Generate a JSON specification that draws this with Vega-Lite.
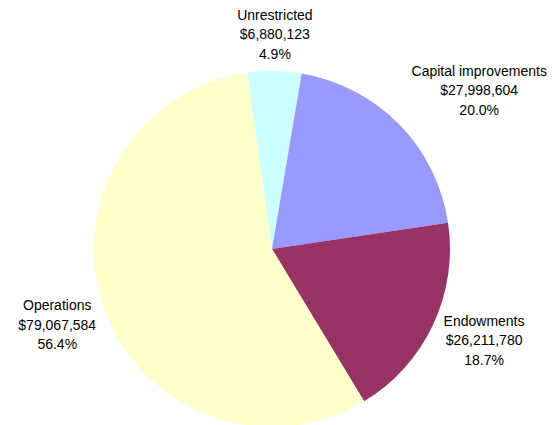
{
  "$schema": "https://vega.github.io/schema/vega-lite/v6.json",
  "width": 544,
  "height": 352,
  "padding": {"left": 0, "top": 73, "right": 14, "bottom": 0},
  "autosize": {"type": "none"},
  "background": "white",
  "view": {"stroke": null},
  "data": {
    "values": [
      {"category": "Unrestricted", "value": 6880123},
      {"category": "Capital improvements", "value": 27998604},
      {"category": "Endowments", "value": 26211780},
      {"category": "Operations", "value": 79067584}
    ]
  },
  "transform": [
    {"joinaggregate": [{"op": "sum", "field": "value", "as": "total"}]},
    {"calculate": "[datum.category, format(datum.value, '$,d'), format(datum.value / datum.total, '.1%')]", "as": "label"}
  ],
  "encoding": {
    "theta": {
      "field": "value",
      "type": "quantitative",
      "stack": true,
      "scale": {"range": [0.1676, 6.4508]}
    }
  },
  "layer": [
    {
      "mark": {"type": "arc", "outerRadius": 178},
      "encoding": {
        "color": {
          "field": "category",
          "type": "nominal",
          "scale": {
            "domain": ["Capital improvements", "Endowments", "Operations", "Unrestricted"],
            "range": ["#9999FF", "#993366", "#FFFFCC", "#CCFFFF"]
          },
          "legend": null
        }
      }
    },
    {
      "mark": {
        "type": "text",
        "radius": {"expr": "datum.category == 'Capital improvements' ? 258 : datum.category == 'Unrestricted' ? 214 : datum.category == 'Endowments' ? 231 : 228"},
        "dx": {"expr": "datum.category == 'Capital improvements' ? 23 : datum.category == 'Endowments' ? 3 : 0"},
        "dy": {"expr": "datum.category == 'Capital improvements' ? 3.5 : datum.category == 'Endowments' ? -25.5 : -19.5"},
        "font": "Liberation Sans",
        "fontSize": 14,
        "lineHeight": 19.5,
        "fill": "black",
        "align": "center",
        "baseline": "middle"
      },
      "encoding": {
        "detail": {"field": "category", "type": "nominal"},
        "text": {"field": "label", "type": "nominal"}
      }
    }
  ]
}
